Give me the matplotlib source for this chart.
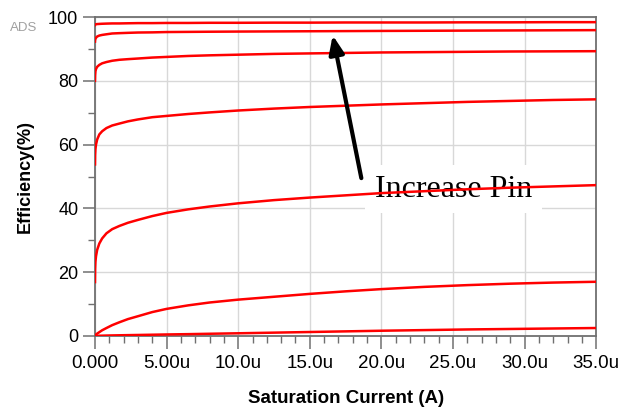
import matplotlib
matplotlib.use("Agg")
import matplotlib.pyplot as plt
from matplotlib.ticker import MultipleLocator, FixedLocator, FixedFormatter

# saturation current (u A) sample points, shared by all curves
isat = [0, 0.01, 0.03, 0.07, 0.15, 0.3, 0.5, 0.8, 1.2, 1.7, 2.3, 3, 4, 5, 6.5,
        8, 10, 12.5, 15, 17.5, 20, 23, 26, 29, 32, 35]

# efficiency (%) for each input power, lowest Pin first
eff_p1 = [0.0, 0.0, 0.02, 0.03, 0.05, 0.08, 0.1, 0.14, 0.18, 0.22, 0.27, 0.32, 0.4,
          0.48, 0.58, 0.7, 0.85, 1.05, 1.25, 1.45, 1.65, 1.85, 2.05, 2.2, 2.35, 2.5]
eff_p2 = [0.0, 0.1, 0.25, 0.45, 0.75, 1.2, 1.8, 2.5, 3.4, 4.3, 5.3, 6.2, 7.5,
          8.5, 9.6, 10.5, 11.4, 12.3, 13.2, 14.0, 14.7, 15.4, 15.95, 16.4, 16.75, 17.0]
eff_p3 = [16.9, 21.0, 23.3, 25.0, 27.0, 29.0, 30.6, 32.2, 33.5, 34.5, 35.5, 36.4, 37.6,
          38.6, 39.7, 40.6, 41.6, 42.6, 43.4, 44.1, 44.8, 45.4, 46.0, 46.5, 46.9, 47.3]
eff_p4 = [53.8, 56.8, 58.6, 60.0, 61.6, 63.2, 64.2, 65.2, 66.0, 66.6, 67.3, 67.9, 68.6,
          69.0, 69.6, 70.1, 70.7, 71.3, 71.8, 72.2, 72.6, 73.0, 73.4, 73.7, 74.0, 74.2]
eff_p5 = [80.0, 81.8, 83.0, 83.7, 84.4, 85.0, 85.5, 85.9, 86.3, 86.6, 86.8, 87.0, 87.3,
          87.5, 87.8, 88.0, 88.2, 88.45, 88.6, 88.75, 88.9, 89.0, 89.1, 89.2, 89.25, 89.3]
eff_p6 = [92.3, 92.8, 93.2, 93.5, 93.9, 94.2, 94.4, 94.6, 94.85, 94.95, 95.05, 95.15, 95.2,
          95.3, 95.35, 95.4, 95.45, 95.5, 95.55, 95.6, 95.65, 95.7, 95.75, 95.8, 95.85, 95.9]
eff_p7 = [97.5, 97.6, 97.7, 97.75, 97.8, 97.85, 97.9, 97.95, 98.0, 98.0, 98.05, 98.1, 98.1,
          98.15, 98.15, 98.2, 98.2, 98.25, 98.25, 98.3, 98.3, 98.3, 98.35, 98.35, 98.4, 98.4]
curves = [eff_p1, eff_p2, eff_p3, eff_p4, eff_p5, eff_p6, eff_p7]

xticks = [0, 5, 10, 15, 20, 25, 30, 35]
xtick_labels = ["0.000", "5.00u", "10.0u", "15.0u", "20.0u", "25.0u", "30.0u", "35.0u"]
yticks = [0, 20, 40, 60, 80, 100]

# arrow: tail / head in data units
arrow_tail = (18.6, 49.5)
arrow_head = (16.6, 94.3)
label_pos = (19.55, 46.0)

fig = plt.figure(figsize=(6.21, 4.11), dpi=100)
ax = fig.add_axes([0.153, 0.1825, 0.807, 0.776])

for eff in curves:
    ax.plot(isat, eff, color="#ff0000", lw=1.8, zorder=3)

ax.set_xlim(0, 35)
ax.set_ylim(0, 100)

ax.xaxis.set_major_locator(FixedLocator(xticks))
ax.xaxis.set_major_formatter(FixedFormatter(xtick_labels))
ax.xaxis.set_minor_locator(MultipleLocator(1))
ax.yaxis.set_major_locator(FixedLocator(yticks))
ax.yaxis.set_minor_locator(MultipleLocator(10))

ax.grid(True, which="major", color="#d8d8d8", lw=1.0)
ax.set_axisbelow(True)

for s in ax.spines.values():
    s.set_color("#707070")
    s.set_linewidth(1.3)

ax.tick_params(which="major", length=9, width=1.1, color="#707070",
               labelsize=13, pad=3)
ax.tick_params(axis="x", which="major", labelsize=13.5, pad=5)
ax.tick_params(which="minor", length=5, width=1.0, color="#707070")
for lab in ax.get_xticklabels() + ax.get_yticklabels():
    lab.set_fontfamily("Liberation Sans")

ax.set_xlabel("Saturation Current (A)", fontsize=13.5, fontweight="bold",
              family="Liberation Sans", labelpad=13)
ax.set_ylabel("Efficiency(%)", fontsize=13, fontweight="bold",
              family="Liberation Sans", labelpad=10)

ax.annotate("", xy=arrow_head, xytext=arrow_tail,
            arrowprops=dict(arrowstyle="-|>,head_length=1.1,head_width=0.45",
                            color="black", lw=3, shrinkA=0, shrinkB=0),
            zorder=4)

ax.text(label_pos[0], label_pos[1], "Increase Pin", family="Liberation Serif",
        fontsize=23, va="center", ha="left", zorder=2,
        bbox=dict(boxstyle="square,pad=0.3", fc="white", ec="none"))

fig.text(10 / 621, 1 - 28 / 411, "ADS", color="#a0a0a0", fontsize=9.5,
         family="Liberation Sans", va="center", ha="left")

fig.savefig("out.png", dpi=100)
